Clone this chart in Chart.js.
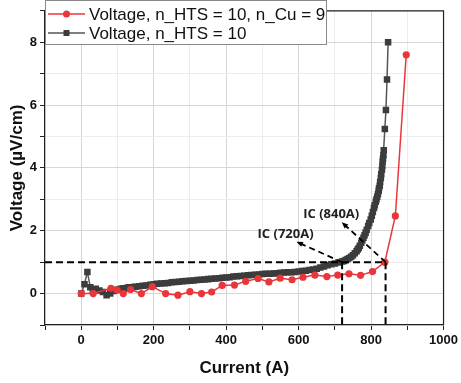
<!DOCTYPE html>
<html>
<head>
<meta charset="utf-8">
<script src="https://cdn.jsdelivr.net/npm/chart.js@4.4.0/dist/chart.umd.min.js"></script>
<style>
  html, body { margin: 0; padding: 0; background: #fff; }
  #wrap { width: 461px; height: 383px; }
</style>
</head>
<body>
<div id="wrap"><canvas id="myChart" width="461" height="383"></canvas></div>
<script>
// series labels
var labelRed = 'Voltage, n_HTS = 10, n_Cu = 9';
var labelBlk = 'Voltage, n_HTS = 10';

// red series: current (A) / voltage (uV/cm)
var curRed = [0, 33, 82, 99, 116, 136, 166, 196, 233, 267, 300, 332, 360, 389, 423, 454, 488, 518, 549, 582,
    612, 645, 678, 708, 739, 771, 804, 838, 867, 897];
var voltRed = [0, 0, 0.17, 0.11, 0, 0.13, 0, 0.22, 0, -0.05, 0.06, 0, 0.05, 0.26, 0.27, 0.39, 0.48, 0.37, 0.49, 0.44,
    0.52, 0.59, 0.54, 0.59, 0.63, 0.58, 0.70, 1.0, 2.47, 7.6];

// black series
var curBlk = [0, 9, 17, 25, 32, 40, 50, 60, 70, 80, 90, 100, 105, 110, 115, 120, 125, 130, 135, 140, 145, 150, 160, 170, 180, 190,
    200, 210, 220, 230, 240, 250, 260, 270, 280, 290, 300, 310, 320, 330, 340, 350, 360, 370, 380, 390,
    400, 410, 420, 430, 440, 450, 460, 470, 480, 490, 500, 510, 520, 530, 540, 550, 560, 570, 580, 590,
    600, 610, 620, 630, 640, 650, 660, 670, 680, 690, 700, 710, 720, 725, 730, 735, 740, 745, 750, 755, 760, 763, 766, 769, 773, 776, 779,
    782, 785, 788, 792, 795, 799, 802, 805, 808, 810, 813, 815, 817, 819, 821, 822, 824, 825, 827, 828, 830, 831, 832, 833, 834, 835, 838, 841, 844, 847];
var voltBlk = [0, 0.3, 0.69, 0.2, 0.12, 0.15, 0.1, 0.05, -0.05, 0.0, 0.08, 0.12, 0.13, 0.15, 0.16, 0.17, 0.18, 0.19, 0.2, 0.2, 0.21, 0.22, 0.23, 0.25, 0.26, 0.28,
    0.3, 0.31, 0.32, 0.33, 0.34, 0.36, 0.37, 0.38, 0.39, 0.4, 0.41, 0.42, 0.43, 0.44, 0.45, 0.46, 0.47, 0.48, 0.49, 0.5,
    0.51, 0.52, 0.54, 0.55, 0.56, 0.57, 0.58, 0.59, 0.6, 0.61, 0.62, 0.63, 0.63, 0.64, 0.65, 0.66, 0.67, 0.68, 0.68, 0.69,
    0.7, 0.72, 0.73, 0.75, 0.77, 0.79, 0.83, 0.86, 0.9, 0.93, 0.96, 0.99, 1.02, 1.04, 1.07, 1.1, 1.13, 1.17, 1.22, 1.28, 1.35, 1.4, 1.45, 1.52, 1.62, 1.7, 1.78,
    1.86, 1.94, 2.03, 2.15, 2.25, 2.36, 2.48, 2.6, 2.72, 2.81, 2.92, 3.0, 3.08, 3.17, 3.27, 3.35, 3.43, 3.55, 3.68, 3.8, 3.94, 4.06, 4.2, 4.3, 4.4, 4.56, 5.24, 5.84, 6.81, 8.0];

// critical current markers (A) at 1 uV/cm
var icCurrents = [720, 840];
var icLevel = 1;
var icTexts = ['IC (720A)', 'IC (840A)'];
var icTextPos = [[564, 1.88], [690, 2.52]];
var icArrowEnd = [[594, 1.65], [719, 2.27]];

var redColor = '#e8363b';
var blkColor = '#3c3c3c';

function toXY(xs, ys) {
    var out = [];
    for (var i = 0; i < xs.length; i++) out.push({x: xs[i], y: ys[i]});
    return out;
}

var extras = {
    id: 'extras',
    afterDatasetsDraw: function (chart) {
        var c = chart.ctx, a = chart.chartArea;
        var xs = chart.scales.x, ys = chart.scales.y;
        c.save();
        // frame top/right
        c.strokeStyle = '#222';
        c.lineWidth = 1.2;
        c.beginPath();
        c.moveTo(a.left, a.top); c.lineTo(a.right, a.top); c.lineTo(a.right, a.bottom);
        c.stroke();
        // dashed IC lines
        c.strokeStyle = '#000';
        c.lineWidth = 2;
        c.setLineDash([7, 4]);
        var yl = ys.getPixelForValue(icLevel);
        c.beginPath();
        c.moveTo(a.left, yl);
        c.lineTo(xs.getPixelForValue(icCurrents[1]), yl);
        icCurrents.forEach(function (v) {
            c.moveTo(xs.getPixelForValue(v), yl);
            c.lineTo(xs.getPixelForValue(v), a.bottom);
        });
        c.stroke();
        // arrows
        c.lineWidth = 1.8;
        c.setLineDash([6, 4]);
        for (var i = 0; i < icCurrents.length; i++) {
            var x0 = xs.getPixelForValue(icCurrents[i]), y0 = yl;
            var x1 = xs.getPixelForValue(icArrowEnd[i][0]), y1 = ys.getPixelForValue(icArrowEnd[i][1]);
            c.beginPath(); c.moveTo(x0, y0); c.lineTo(x1, y1); c.stroke();
            var ang = Math.atan2(y1 - y0, x1 - x0);
            c.setLineDash([]);
            c.fillStyle = '#000';
            c.beginPath();
            c.moveTo(x1, y1);
            c.lineTo(x1 - 7 * Math.cos(ang - 0.4), y1 - 7 * Math.sin(ang - 0.4));
            c.lineTo(x1 - 7 * Math.cos(ang + 0.4), y1 - 7 * Math.sin(ang + 0.4));
            c.closePath(); c.fill();
            c.setLineDash([6, 4]);
            c.font = 'bold 13px "Open Sans"';
            c.textAlign = 'center'; c.textBaseline = 'middle';
            c.fillStyle = '#222';
            c.fillText(icTexts[i], xs.getPixelForValue(icTextPos[i][0]), ys.getPixelForValue(icTextPos[i][1]));
        }
        c.restore();
    },
    afterDraw: function (chart) {
        var c = chart.ctx, a = chart.chartArea;
        c.save();
        c.fillStyle = '#fff';
        c.fillRect(a.left, 0, 281, 44);
        c.strokeStyle = '#888';
        c.lineWidth = 1;
        c.strokeRect(a.left + 0.5, 0.5, 281, 44);
        c.font = '17px "Liberation Sans"';
        c.textBaseline = 'middle';
        chart.data.datasets.forEach(function (ds, i) {
            var yy = 14 + i * 19;
            c.strokeStyle = ds.borderColor;
            c.lineWidth = 1.5;
            c.beginPath(); c.moveTo(a.left + 3, yy); c.lineTo(a.left + 40, yy); c.stroke();
            c.fillStyle = ds.backgroundColor;
            c.beginPath();
            if (ds.pointStyle === 'rect') c.rect(a.left + 18.5, yy - 3, 6, 6);
            else c.arc(a.left + 21.5, yy, 3.5, 0, Math.PI * 2);
            c.fill();
            c.fillStyle = '#111';
            c.fillText(ds.label, a.left + 44, yy + 1);
        });
        c.restore();
    }
};

function gridColor(ctx, step) {
    var v = ctx.tick ? ctx.tick.value : 0;
    return (Math.round(v) % step === 0) ? '#d6d6d6' : '#ececec';
}

var ctx = document.getElementById('myChart').getContext('2d');
var myChart = new Chart(ctx, {
    type: 'scatter',
    data: {
        datasets: [{
            label: labelRed,
            data: toXY(curRed, voltRed),
            showLine: true,
            borderColor: redColor,
            backgroundColor: redColor,
            borderWidth: 1.5,
            pointRadius: 3.6,
            pointStyle: 'circle',
            pointBorderWidth: 0,
            order: 1
        }, {
            label: labelBlk,
            data: toXY(curBlk, voltBlk),
            showLine: true,
            borderColor: '#555',
            backgroundColor: blkColor,
            borderWidth: 1.5,
            pointRadius: 4.6,
            pointStyle: 'rect',
            pointBorderWidth: 0,
            order: 2
        }]
    },
    options: {
        responsive: false,
        animation: false,
        layout: {padding: {top: 1, right: 15, left: 0, bottom: 0}},
        plugins: {legend: {display: false}, tooltip: {enabled: false}},
        scales: {
            x: {
                type: 'linear', min: -100, max: 1000,
                afterFit: function (s) { s.height = 58; },
                ticks: {
                    stepSize: 100, autoSkip: false, maxRotation: 0, padding: 3,
                    color: '#111', font: {family: 'Liberation Sans', size: 13, weight: 'bold'},
                    callback: function (v) { return (v >= 0 && v % 200 === 0) ? v : ''; }
                },
                grid: {color: function (c) { return gridColor(c, 200); }, tickColor: '#222', tickLength: 5, lineWidth: 1},
                border: {color: '#222', width: 1.2},
                title: {display: true, text: 'Current (A)', color: '#111',
                    font: {family: 'Liberation Sans', size: 17, weight: 'bold'}, padding: {top: 0, bottom: 4}}
            },
            y: {
                type: 'linear', min: -1, max: 9,
                afterFit: function (s) { s.width = 45; },
                ticks: {
                    stepSize: 1, autoSkip: false, padding: 3,
                    color: '#111', font: {family: 'Liberation Sans', size: 13, weight: 'bold'},
                    callback: function (v) { return (v >= 0 && v <= 8 && v % 2 === 0) ? v : ''; }
                },
                grid: {color: function (c) { return gridColor(c, 2); }, tickColor: '#222', tickLength: 5, lineWidth: 1},
                border: {color: '#222', width: 1.2},
                title: {display: true, text: 'Voltage (µV/cm)', color: '#111',
                    font: {family: 'Liberation Sans', size: 17, weight: 'bold'}, padding: {top: 7, bottom: 0}}
            }
        }
    },
    plugins: [extras]
});
</script>
</body>
</html>
